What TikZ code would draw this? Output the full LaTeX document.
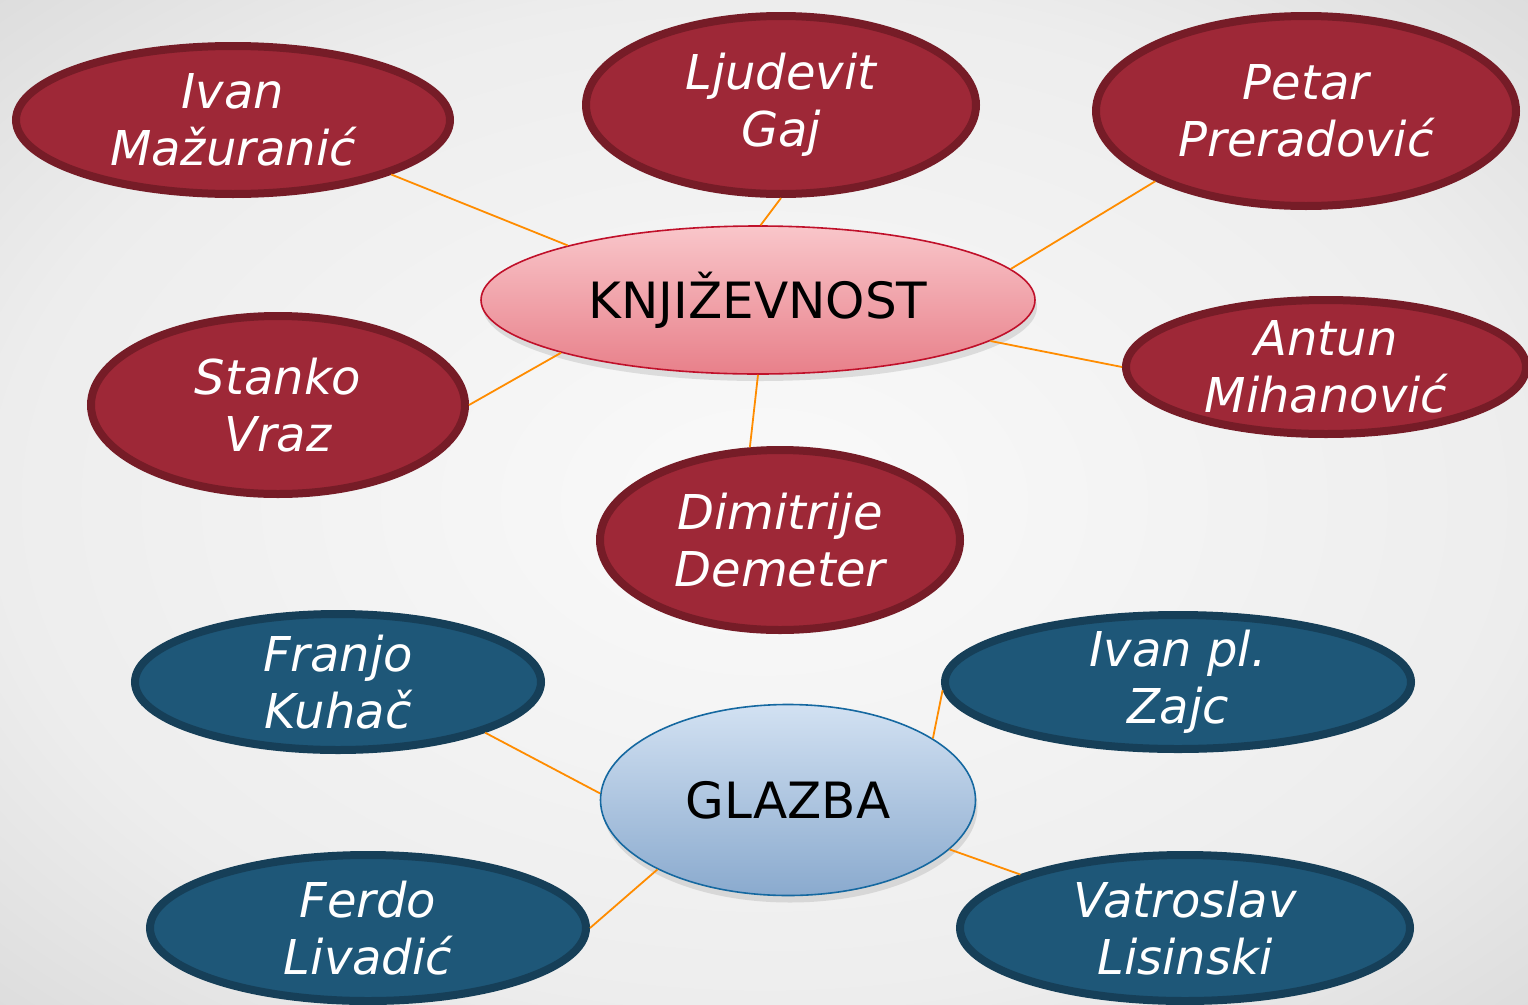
\documentclass[tikz,border=0pt]{standalone}
\usepackage{fontspec}
\setmainfont{DejaVu Sans}
\usetikzlibrary{shapes.geometric,shadows}
\definecolor{redfill}{HTML}{9E2837}
\definecolor{redborder}{HTML}{761C27}
\definecolor{bluefill}{HTML}{1E5778}
\definecolor{blueborder}{HTML}{163F58}
\definecolor{linkc}{HTML}{FF8C00}
\definecolor{ktop}{HTML}{F9C6CA}
\definecolor{kbot}{HTML}{E8808A}
\definecolor{kline}{HTML}{C0102A}
\definecolor{gtop}{HTML}{D2E1F2}
\definecolor{gbot}{HTML}{8AAACE}
\definecolor{gline}{HTML}{1568A0}
\pgfdeclareradialshading{bgshade}{\pgfpoint{0bp}{0bp}}{color(0bp)=(black!2); color(25bp)=(black!7); color(50bp)=(black!22); color(72bp)=(black!28)}
\tikzset{
  namefont/.style={font=\fontsize{48}{57}\selectfont\itshape, text=white, align=center},
  redname/.style={ellipse, draw=redborder, line width=8pt, fill=redfill, inner xsep=-60pt, inner ysep=-40pt, namefont},
  bluename/.style={ellipse, draw=blueborder, line width=8pt, fill=bluefill, inner xsep=-60pt, inner ysep=-40pt, namefont},
  hub/.style={ellipse, inner xsep=-40pt, inner ysep=-20pt, font=\fontsize{50}{57}\selectfont, text=black,
    drop shadow={opacity=0.22, shadow xshift=2pt, shadow yshift=-7pt}},
  link/.style={draw=linkc, line width=1.8pt}
}
\begin{document}
\begin{tikzpicture}[x=1pt,y=-1pt]
\useasboundingbox (0,0) rectangle (1528,1004);
\shade[shading=bgshade] (0,0) rectangle (1528,1004);

\node[hub, draw=kline, line width=1.6pt, top color=ktop, bottom color=kbot,
  minimum width=554pt, minimum height=148pt] (knj) at (758,300) {KNJIŽEVNOST};
\node[hub, draw=gline, line width=1.6pt, top color=gtop, bottom color=gbot,
  minimum width=375pt, minimum height=191pt] (glz) at (788,800) {GLAZBA};

\node[redname, minimum width=434pt, minimum height=148pt] (ivm) at (233,120) {Ivan\\Mažuranić};
\node[redname, minimum width=390pt, minimum height=178pt] (ljg) at (781,105) {Ljudevit\\Gaj};
\node[redname, minimum width=420pt, minimum height=190pt] (ppr) at (1306,111) {Petar\\Preradović};
\node[redname, minimum width=374pt, minimum height=178pt] (svr) at (278,405) {Stanko\\Vraz};
\node[redname, minimum width=400pt, minimum height=134pt] (amh) at (1326,367) {Antun\\Mihanović};
\node[redname, minimum width=360pt, minimum height=180pt] (ddm) at (780,540) {Dimitrije\\Demeter};

\node[bluename, minimum width=406pt, minimum height=136pt] (fkh) at (338,682) {Franjo\\Kuhač};
\node[bluename, minimum width=466pt, minimum height=134pt] (izj) at (1178,682) {Ivan pl.\\Zajc};
\node[bluename, minimum width=436pt, minimum height=146pt] (fld) at (368,928) {Ferdo\\Livadić};
\node[bluename, minimum width=450pt, minimum height=146pt] (vls) at (1185,928) {Vatroslav\\Lisinski};

\draw[link] (ivm.-19) -- (knj.164);
\draw[link] (ljg.-90) -- (knj.88);
\draw[link] (ppr.-155) -- (knj.7);
\draw[link] (svr.0) -- (knj.-165);
\draw[link] (amh.180) -- (knj.-10);
\draw[link] (ddm.108) -- (knj.-90);

\draw[link] (fkh.-19) -- (glz.178);
\draw[link] (izj.-178) -- (glz.23);
\draw[link] (fld.0) -- (glz.-152);
\draw[link] (vls.162) -- (glz.-17);
\end{tikzpicture}
\end{document}
